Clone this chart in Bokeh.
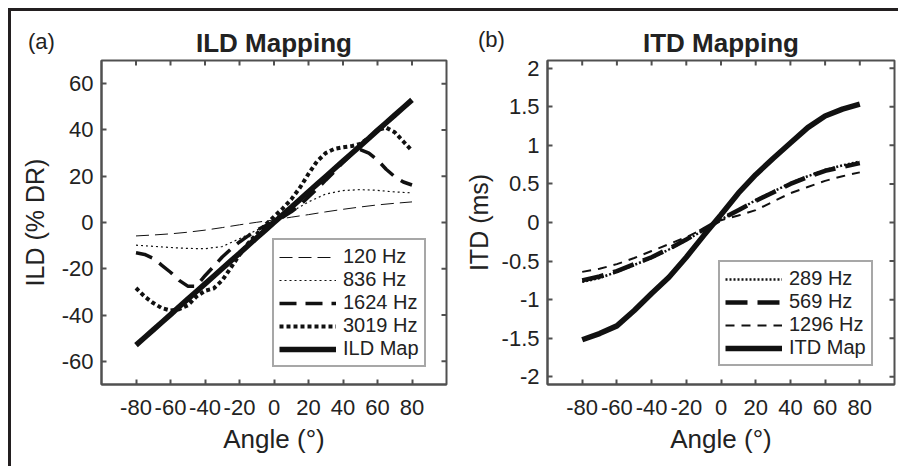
import math
from bokeh.plotting import figure
from bokeh.models import Range1d, FixedTicker, Legend, LegendItem, NumeralTickFormatter, Div
from bokeh.layouts import row
from bokeh.embed import file_html
from bokeh.resources import INLINE

# ---------------- data ----------------
angle_10 = [-80, -70, -60, -50, -40, -30, -20, -10, 0, 10, 20, 30, 40, 50, 60, 70, 80]
angle_5 = [-80, -75, -70, -65, -60, -55, -50, -45, -40, -35, -30, -25, -20, -15, -10, -5,
           0, 5, 10, 15, 20, 25, 30, 35, 40, 45, 50, 55, 60, 65, 70, 75, 80]

ild_120 = [-5.8, -5.4, -4.9, -4.2, -3.3, -2.2, -1.0, 0.1, 1.1, 2.3, 3.4, 4.6, 5.7, 6.7, 7.6, 8.3, 8.9]
ild_836 = [-9.8, -10.3, -10.8, -11.2, -11.3, -10.4, -7.0, -3.3, 0.3, 4.6, 8.9, 12.3, 13.8, 14.2, 13.9, 13.2, 12.8]
ild_1624 = [-13.1, -13.8, -15.5, -18.5, -21.5, -25.0, -27.5, -27.5, -23.0, -19.0, -14.9, -11.5,
            -8.4, -5.8, -3.3, -1.4, 0.3, 2.3, 4.6, 7.5, 11.0, 14.5, 18.3, 22.0, 26.0, 29.5,
            31.5, 30.0, 27.0, 23.0, 19.8, 17.5, 16.2]
ild_3019 = [-28.3, -32.0, -34.8, -37.0, -38.0, -37.5, -35.8, -32.0, -29.5, -28.5, -25.0, -19.5,
            -14.0, -9.0, -5.0, -1.0, 2.5, 6.0, 10.0, 15.0, 21.0, 26.5, 30.0, 31.8, 32.5, 33.0,
            34.0, 36.5, 40.0, 41.0, 39.0, 35.0, 31.0]
ild_map = [-53.0, -49.7, -46.4, -43.1, -39.8, -36.4, -33.1, -29.8, -26.5, -23.2, -19.9, -16.6,
           -13.3, -9.9, -6.6, -3.3, 0.0, 3.3, 6.6, 9.9, 13.3, 16.6, 19.9, 23.2, 26.5, 29.8,
           33.1, 36.4, 39.8, 43.1, 46.4, 49.7, 53.0]

itd_289 = [-0.77, -0.72, -0.64, -0.55, -0.46, -0.35, -0.23, -0.10, 0.04, 0.16, 0.29, 0.40, 0.51, 0.60, 0.68, 0.74, 0.79]
itd_569 = [-0.75, -0.70, -0.63, -0.54, -0.45, -0.34, -0.22, -0.09, 0.04, 0.16, 0.28, 0.39, 0.50, 0.59, 0.67, 0.72, 0.77]
itd_1296 = [-0.64, -0.60, -0.54, -0.46, -0.37, -0.28, -0.19, -0.08, 0.03, 0.09, 0.16, 0.27, 0.38, 0.46, 0.54, 0.60, 0.65]
itd_map = [-1.52, -1.44, -1.34, -1.14, -0.92, -0.71, -0.45, -0.17, 0.10, 0.38, 0.62, 0.83, 1.03, 1.23, 1.38, 1.47, 1.535]

x_ticks = [-80, -60, -40, -20, 0, 20, 40, 60, 80]
ild_ticks = [-60, -40, -20, 0, 20, 40, 60]
itd_ticks = [-2, -1.5, -1, -0.5, 0, 0.5, 1, 1.5, 2]

ild_labels = ["120 Hz", "836 Hz", "1624 Hz", "3019 Hz", "ILD Map"]
itd_labels = ["289 Hz", "569 Hz", "1296 Hz", "ITD Map"]

# ---------------- style ----------------
FONT = "Liberation Sans"
TXT = "#222222"
AX = "#505050"
LINE = "#111111"
XR = (-100, 100)


def make_panel(title, ylabel, yr, yticks, yfmt, min_left, fw, min_right, ylab_standoff):
    p = figure(frame_width=fw, frame_height=324, output_backend="svg", toolbar_location=None,
               x_range=Range1d(*XR), y_range=Range1d(*yr),
               min_border_left=min_left, min_border_right=min_right,
               min_border_top=49, min_border_bottom=82,
               x_axis_label="Angle (°)", y_axis_label=ylabel)
    p.xgrid.visible = False
    p.ygrid.visible = False
    p.outline_line_color = AX
    p.outline_line_width = 2
    p.title.text = title
    p.title.align = "center"
    p.title.text_font = FONT
    p.title.text_font_size = "26px"
    p.title.text_font_style = "bold"
    p.title.text_color = TXT
    p.title.standoff = 5

    p.xaxis.ticker = FixedTicker(ticks=x_ticks)
    p.yaxis.ticker = FixedTicker(ticks=yticks)
    p.xaxis.formatter = NumeralTickFormatter(format="0")
    p.yaxis.formatter = NumeralTickFormatter(format=yfmt)
    for ax in (p.xaxis[0], p.yaxis[0]):
        ax.axis_line_color = AX
        ax.axis_line_width = 2
        ax.major_tick_line_color = AX
        ax.major_tick_line_width = 2
        ax.major_tick_in = 5
        ax.major_tick_out = 0
        ax.minor_tick_line_color = None
        ax.major_label_text_font = FONT
        ax.major_label_text_font_size = "22px"
        ax.major_label_text_color = TXT
        ax.axis_label_text_font = FONT
        ax.axis_label_text_font_style = "normal"
        ax.axis_label_text_color = TXT
    p.xaxis.axis_label_text_font_size = "26px"
    p.yaxis.axis_label_text_font_size = "25px"
    p.xaxis.major_label_standoff = 15
    p.xaxis.axis_label_standoff = 6
    p.yaxis.major_label_standoff = 8
    p.yaxis.axis_label_standoff = ylab_standoff

    # inward ticks on the top and right edges of the box
    p.ray(x=x_ticks, y=[yr[1]] * len(x_ticks), length=5, angle=-math.pi / 2,
          length_units="screen", line_color=AX, line_width=2)
    p.ray(x=[XR[1]] * len(yticks), y=yticks, length=5, angle=math.pi,
          length_units="screen", line_color=AX, line_width=2)
    return p


def tag_div(text, left, top):
    return Div(text=text, styles={"position": "absolute", "left": f"{left}px", "top": f"{top}px",
                                  "font-family": FONT, "font-size": "22px", "color": TXT,
                                  "line-height": "24px", "white-space": "nowrap"})


# ---------------- panel (a) ----------------
pa = make_panel("ILD Mapping", "ILD (% DR)", (-70, 70), ild_ticks, "0", 90, 345, 9, 10)
r1 = pa.line(angle_10, ild_120, line_color=LINE, line_width=1, line_dash="13 6")
r2 = pa.line(angle_10, ild_836, line_color=LINE, line_width=1.2, line_dash="2 3")
r3 = pa.line(angle_5, ild_1624, line_color=LINE, line_width=3.5, line_dash="17 9")
r4 = pa.line(angle_5, ild_3019, line_color=LINE, line_width=4, line_dash="4 3")
r5 = pa.line(angle_5, ild_map, line_color=LINE, line_width=5.5)
leg_a = Legend(items=[LegendItem(label=l, renderers=[r]) for l, r in
                      zip(ild_labels, [r1, r2, r3, r4, r5])],
               location=(171, 17))

# ---------------- panel (b) ----------------
pb = make_panel("ITD Mapping", "ITD (ms)", (-2.1, 2.1), itd_ticks, "0.[0]", 92, 347, 4, 6)
s1 = pb.line(angle_10, itd_289, line_color=LINE, line_width=2.5, line_dash="2 2")
s2 = pb.line(angle_10, itd_569, line_color=LINE, line_width=4.5, line_dash="22 10")
s3 = pb.line(angle_10, itd_1296, line_color=LINE, line_width=2, line_dash="9 7")
s4 = pb.line(angle_10, itd_map, line_color=LINE, line_width=5.5)
leg_b = Legend(items=[LegendItem(label=l, renderers=[r]) for l, r in
                      zip(itd_labels, [s1, s2, s3, s4])],
               location=(171, 18))

for p, leg in ((pa, leg_a), (pb, leg_b)):
    leg.label_text_font = FONT
    leg.label_text_font_size = "20px"
    leg.label_text_color = TXT
    leg.glyph_width = 57
    leg.glyph_height = 20
    leg.label_height = 20
    leg.label_standoff = 7
    leg.spacing = 0
    leg.padding = 5
    leg.margin = 0
    leg.border_line_color = AX
    leg.border_line_width = 2
    leg.background_fill_alpha = 1
    p.add_layout(leg, "center")

div_a = tag_div("(a)", 12, 14)
div_b = tag_div("(b)", 462, 12)

layout = row(pa, pb, div_a, div_b,
             styles={"position": "relative",
                     "border-top": "3px solid #231f20",
                     "border-left": "3px solid #231f20",
                     "margin-top": "8px", "margin-left": "8px"})

open("out.html", "w").write(file_html(layout, INLINE))
